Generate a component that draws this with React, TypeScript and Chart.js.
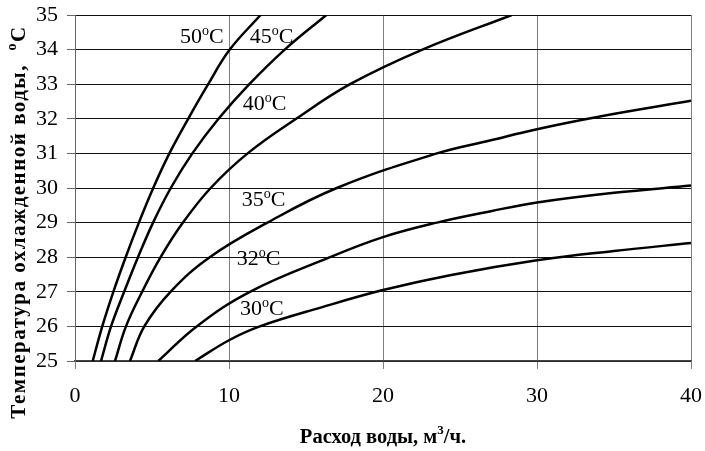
import { useEffect, useRef } from "react";
import { Chart, registerables } from "chart.js";

Chart.register(...registerables);

// ---- data ----
const xTickValues = [0, 10, 20, 30, 40];
const yTickValues = [25, 26, 27, 28, 29, 30, 31, 32, 33, 34, 35];

const curve50X = [1.15, 1.77, 2.49, 3.29, 4.15, 5.08, 6.13, 7.35, 8.65, 10.05, 12.05];
const curve50Y = [25, 26, 27, 28, 29, 30, 31, 32, 33, 34, 35];

const curve45X = [1.69, 2.34, 3.19, 4.09, 5.07, 6.22, 7.62, 9.32, 11.32, 13.62, 16.32];
const curve45Y = [25, 26, 27, 28, 29, 30, 31, 32, 33, 34, 35];

const curve40X = [2.6, 3.31, 4.36, 5.56, 7.01, 8.81, 11.21, 14.36, 17.86, 22.56, 28.36];
const curve40Y = [25, 26, 27, 28, 29, 30, 31, 32, 33, 34, 35];

const curve35X = [3.57, 4.5, 6.2, 8.75, 12.5, 17.0, 23.5, 27, 30, 34, 40];
const curve35Y = [25, 26, 27, 28, 29, 30, 31, 31.38, 31.7, 32.06, 32.52];

const curve32X = [5.41, 7.9, 11.36, 16.56, 20, 23.5, 27, 30, 35, 40];
const curve32Y = [25, 26, 27, 28, 28.58, 29, 29.33, 29.58, 29.86, 30.07];

const curve30X = [7.8, 10, 12.0, 16, 20, 24.35, 30, 35, 40];
const curve30Y = [25, 25.6, 26, 26.55, 27.05, 27.48, 27.91, 28.18, 28.41];

const curveXs = [curve50X, curve45X, curve40X, curve35X, curve32X, curve30X];
const curveYs = [curve50Y, curve45Y, curve40Y, curve35Y, curve32Y, curve30Y];

// curve labels (temperature) and their anchor in data units (left / baseline)
const curveLabels = ["50", "45", "40", "35", "32", "30"];
const labelX = [6.82, 11.35, 10.9, 10.82, 10.5, 10.71];
const labelY = [34.19, 34.18, 32.25, 29.47, 27.77, 26.32];

const xTitleMain = "Расход воды, м";
const xTitleSup = "3";
const xTitleEnd = "/ч.";
const yTitleMain = "Температура охлажденной воды,  ";
const yTitleSup = "o";
const yTitleEnd = "C";

const SERIF = "'Liberation Serif', 'Times New Roman', serif";

const annotationPlugin = {
  id: "annotations",
  afterDatasetsDraw(chart: any) {
    const ctx = chart.ctx as CanvasRenderingContext2D;
    const xs = chart.scales.x;
    const ys = chart.scales.y;
    ctx.save();
    ctx.fillStyle = "#000";
    ctx.textBaseline = "alphabetic";
    ctx.textAlign = "left";
    curveLabels.forEach((lab, i) => {
      let px = xs.getPixelForValue(labelX[i]);
      const py = ys.getPixelForValue(labelY[i]);
      ctx.font = `22px ${SERIF}`;
      ctx.fillText(lab, px, py);
      px += ctx.measureText(lab).width;
      ctx.font = `14px ${SERIF}`;
      ctx.fillText("o", px, py - 8);
      px += ctx.measureText("o").width;
      ctx.font = `22px ${SERIF}`;
      ctx.fillText("C", px, py);
    });
    ctx.restore();
  },
  afterDraw(chart: any) {
    const ctx = chart.ctx as CanvasRenderingContext2D;
    const area = chart.chartArea;
    ctx.save();
    ctx.fillStyle = "#000";
    ctx.textBaseline = "alphabetic";
    ctx.textAlign = "left";

    // x title
    let big = `bold 20.5px ${SERIF}`;
    let small = `bold 13px ${SERIF}`;
    ctx.font = big;
    const w1 = ctx.measureText(xTitleMain).width;
    const w3 = ctx.measureText(xTitleEnd).width;
    ctx.font = small;
    const w2 = ctx.measureText(xTitleSup).width;
    const total = w1 + w2 + w3;
    let px = (area.left + area.right) / 2 - total / 2;
    const by = 443;
    ctx.font = big;
    ctx.fillText(xTitleMain, px, by);
    px += w1;
    ctx.font = small;
    ctx.fillText(xTitleSup, px, by - 9);
    px += w2;
    ctx.font = big;
    ctx.fillText(xTitleEnd, px, by);

    // y title (rotated)
    big = `bold 21px ${SERIF}`;
    small = `bold 14px ${SERIF}`;
    (ctx as any).letterSpacing = "1.5px";
    ctx.translate(25, 222);
    ctx.rotate(-Math.PI / 2);
    ctx.font = big;
    const v1 = ctx.measureText(yTitleMain).width;
    const v3 = ctx.measureText(yTitleEnd).width;
    ctx.font = small;
    const v2 = ctx.measureText(yTitleSup).width;
    const vt = v1 + v2 + v3;
    let qx = -vt / 2;
    ctx.font = big;
    ctx.fillText(yTitleMain, qx, 0);
    qx += v1;
    ctx.font = small;
    ctx.fillText(yTitleSup, qx, -9);
    qx += v2;
    ctx.font = big;
    ctx.fillText(yTitleEnd, qx, 0);
    ctx.restore();
  },
};

export default function App() {
  const ref = useRef<HTMLCanvasElement | null>(null);
  useEffect(() => {
    if (!ref.current) return;
    const datasets = curveXs.map((xsArr, i) => ({
      label: curveLabels[i],
      data: xsArr.map((x, j) => ({ x, y: curveYs[i][j] })),
      borderColor: "#000",
      borderWidth: 2.5,
      pointRadius: 0,
      fill: false,
      tension: 0.4,
    }));
    const chart = new Chart(ref.current, {
      type: "line",
      data: { datasets },
      options: {
        animation: false,
        responsive: false,
        devicePixelRatio: 1,
        layout: { padding: { top: 15, right: 14, left: 0, bottom: 0 } },
        plugins: { legend: { display: false }, tooltip: { enabled: false } },
        scales: {
          x: {
            type: "linear",
            min: xTickValues[0],
            max: xTickValues[xTickValues.length - 1],
            afterBuildTicks: (s: any) => {
              s.ticks = xTickValues.map((v) => ({ value: v }));
            },
            afterFit: (s: any) => {
              s.height = 90;
              s.paddingLeft = 0;
              s.paddingRight = 0;
            },
            ticks: {
              color: "#000",
              font: { family: SERIF, size: 22 },
              padding: 14,
              maxRotation: 0,
            },
            grid: {
              color: "#808080",
              lineWidth: 1,
              tickLength: 8,
              tickColor: "#808080",
            },
            border: { color: "#444", width: 1.5 },
          },
          y: {
            type: "linear",
            min: yTickValues[0],
            max: yTickValues[yTickValues.length - 1],
            afterBuildTicks: (s: any) => {
              s.ticks = yTickValues.map((v) => ({ value: v }));
            },
            afterFit: (s: any) => {
              s.width = 75;
              s.paddingTop = 0;
              s.paddingBottom = 0;
            },
            ticks: {
              color: "#000",
              font: { family: SERIF, size: 22 },
              padding: 9,
            },
            grid: {
              color: "#111",
              lineWidth: 1,
              tickLength: 8,
              tickColor: "#666",
            },
            border: { color: "#666", width: 1 },
          },
        },
      },
      plugins: [annotationPlugin],
    });
    return () => chart.destroy();
  }, []);
  return (
    <div style={{ position: "fixed", left: 0, top: 0, width: 705, height: 451, background: "#fff" }}>
      <canvas ref={ref} width={705} height={451} />
    </div>
  );
}
